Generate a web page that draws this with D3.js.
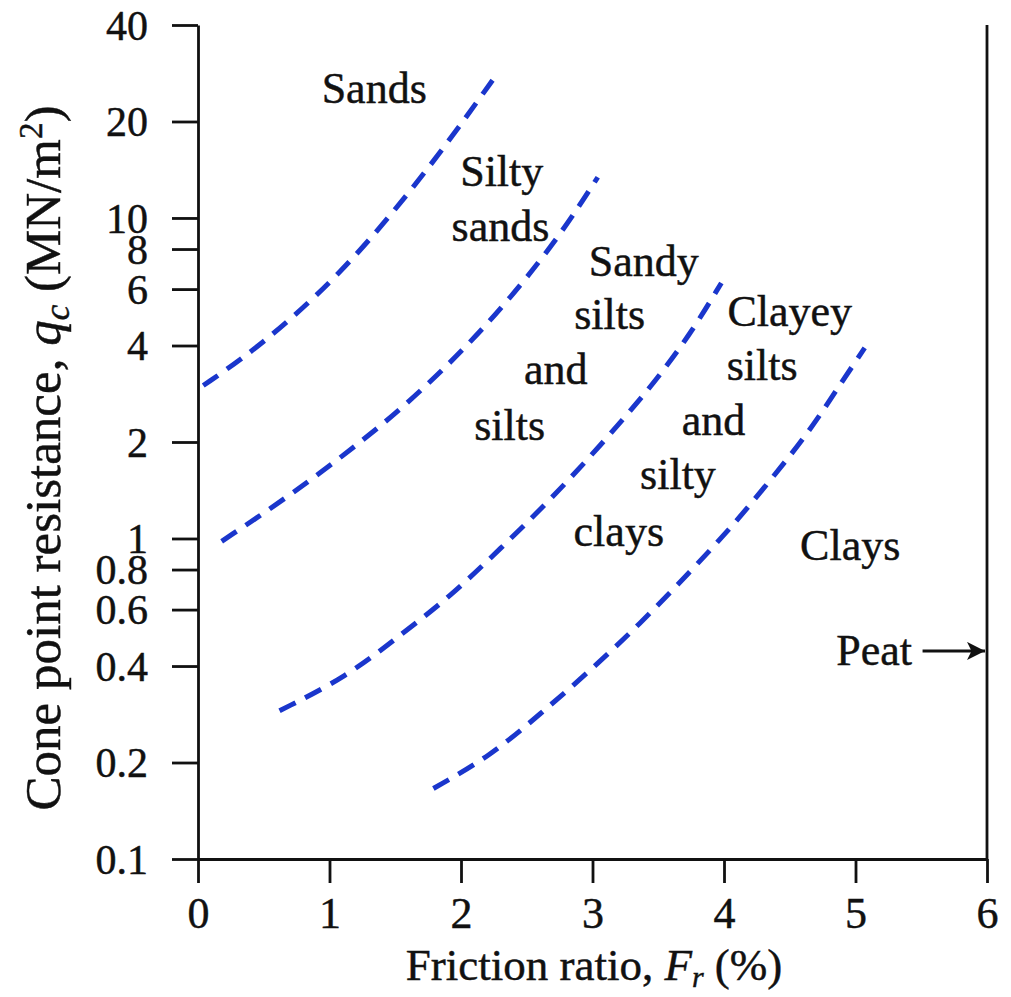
<!DOCTYPE html>
<html>
<head>
<meta charset="utf-8">
<script src="https://cdn.jsdelivr.net/npm/d3@7"></script>
<style>
  body { margin: 0; background: #fff; }
  svg text { font-family: "Liberation Serif", "Times New Roman", serif; fill: #111; stroke: #111; stroke-width: 0.45px; }
</style>
</head>
<body>
<svg id="chart"></svg>
<script>
// tick values
var frTicks = [0, 1, 2, 3, 4, 5, 6];
var qTicks = [0.1, 0.2, 0.4, 0.6, 0.8, 1, 2, 4, 6, 8, 10, 20, 40];

// boundary curves, [friction ratio %, qc MN/m2]
var sandsBoundary = [[0.04, 3.0], [0.35, 3.67], [0.7, 4.8], [1.08, 6.73], [1.46, 10.1], [1.86, 16.3], [2.24, 26.9]];
var siltySandsBoundary = [[0.18, 0.98], [0.7, 1.36], [1.29, 2.07], [1.71, 2.91], [2.22, 4.7], [2.73, 8.5], [3.04, 13.4]];
var sandySiltsBoundary = [[0.62, 0.29], [1.13, 0.37], [1.54, 0.5], [1.92, 0.66], [2.3, 0.93], [2.68, 1.32], [3.06, 1.95], [3.44, 2.95], [3.74, 4.31], [3.98, 6.27]];
var clayeySiltsBoundary = [[1.79, 0.166], [2.22, 0.209], [2.6, 0.283], [2.98, 0.386], [3.36, 0.541], [3.74, 0.785], [4.07, 1.10], [4.37, 1.55], [4.65, 2.16], [4.88, 3.01], [5.07, 3.93]];

// zone names, anchored in data units (fr, q of the text baseline centre)
var zoneLabels = [
  ["Sands", 1.34, 22.8],
  ["Silty", 2.31, 12.6],
  ["sands", 2.30, 8.5],
  ["Sandy", 3.39, 6.6],
  ["silts", 3.13, 4.5],
  ["and", 2.72, 3.03],
  ["silts", 2.37, 2.03],
  ["Clayey", 4.50, 4.6],
  ["silts", 4.29, 3.12],
  ["and", 3.92, 2.10],
  ["silty", 3.65, 1.43],
  ["clays", 3.20, 0.95],
  ["Clays", 4.96, 0.857]
];
var peatLabel = ["Peat", 5.43, 0.403];
var peatArrow = [5.51, 6.0, 0.446];

var W = 1011, H = 997;
var svg = d3.select("#chart").attr("width", W).attr("height", H);

var x = d3.scaleLinear().domain([0, 6]).range([198, 987]);
var y = d3.scaleLog().domain([0.1, 40]).range([859, 25]);

// y axis
var yAxis = svg.append("g")
  .attr("transform", "translate(" + x(0) + ",0)")
  .call(d3.axisLeft(y).tickValues(qTicks).tickSize(26).tickSizeOuter(0).tickPadding(24)
    .tickFormat(function(d) { return String(d); }));
yAxis.selectAll("path, line").attr("stroke", "#111").attr("stroke-width", 2.8);
yAxis.selectAll("text").attr("font-size", 42).attr("dy", "0.34em")
  .style("font-family", "'Liberation Serif', serif").attr("fill", "#111");

// x axis
var xAxis = svg.append("g")
  .attr("transform", "translate(0," + y(0.1) + ")")
  .call(d3.axisBottom(x).tickValues(frTicks).tickSize(24).tickSizeOuter(0).tickPadding(14)
    .tickFormat(d3.format("d")));
xAxis.selectAll("path, line").attr("stroke", "#111").attr("stroke-width", 2.8);
xAxis.selectAll("text").attr("font-size", 44).attr("dy", "0.71em")
  .style("font-family", "'Liberation Serif', serif").attr("fill", "#111");

// right border line at Fr = 6
svg.append("line")
  .attr("x1", x(6)).attr("x2", x(6))
  .attr("y1", y(40)).attr("y2", y(0.1))
  .attr("stroke", "#111").attr("stroke-width", 2.8);

// boundaries
var line = d3.line()
  .x(function(d) { return x(d[0]); })
  .y(function(d) { return y(d[1]); })
  .curve(d3.curveBasis);

[sandsBoundary, siltySandsBoundary, sandySiltsBoundary, clayeySiltsBoundary].forEach(function(b) {
  svg.append("path")
    .attr("d", line(b))
    .attr("fill", "none")
    .attr("stroke", "#1a36cc")
    .attr("stroke-width", 5)
    .attr("stroke-dasharray", "18,11");
});

// zone labels
svg.selectAll("text.zone")
  .data(zoneLabels)
  .enter().append("text")
  .attr("class", "zone")
  .attr("x", function(d) { return x(d[1]); })
  .attr("y", function(d) { return y(d[2]); })
  .attr("text-anchor", "middle")
  .attr("font-size", 44)
  .text(function(d) { return d[0]; });

svg.append("text")
  .attr("x", x(peatLabel[1]))
  .attr("y", y(peatLabel[2]))
  .attr("text-anchor", "end")
  .attr("font-size", 44)
  .text(peatLabel[0]);

// peat arrow
svg.append("defs").append("marker")
  .attr("id", "arrow")
  .attr("viewBox", "0 0 10 10")
  .attr("refX", 10).attr("refY", 5)
  .attr("markerWidth", 24).attr("markerHeight", 18)
  .attr("markerUnits", "userSpaceOnUse")
  .attr("orient", "auto")
  .append("path").attr("d", "M0,0 L10,5 L0,10 L2.5,5 Z").attr("fill", "#111");

svg.append("line")
  .attr("x1", x(peatArrow[0])).attr("x2", x(peatArrow[1]) - 2)
  .attr("y1", y(peatArrow[2])).attr("y2", y(peatArrow[2]))
  .attr("stroke", "#111").attr("stroke-width", 3)
  .attr("marker-end", "url(#arrow)");

// axis titles
var xt = svg.append("text")
  .attr("x", 594).attr("y", 980)
  .attr("text-anchor", "middle")
  .attr("font-size", 45);
xt.append("tspan").text("Friction ratio, ");
xt.append("tspan").attr("font-style", "italic").text("F");
xt.append("tspan").attr("font-style", "italic").attr("font-size", 30).attr("dy", 7).text("r");
xt.append("tspan").attr("dy", -7).text(" (%)");

var yt = svg.append("text")
  .attr("transform", "translate(60,458) rotate(-90)")
  .attr("text-anchor", "middle")
  .attr("font-size", 51);
yt.append("tspan").text("Cone point resistance, ");
yt.append("tspan").attr("font-style", "italic").text("q");
yt.append("tspan").attr("font-style", "italic").attr("font-size", 35).attr("dy", 9).text("c");
yt.append("tspan").attr("dy", -9).text(" (MN/m");
yt.append("tspan").attr("font-size", 33).attr("dy", -18).text("2");
yt.append("tspan").attr("dy", 18).text(")");
</script>
</body>
</html>
